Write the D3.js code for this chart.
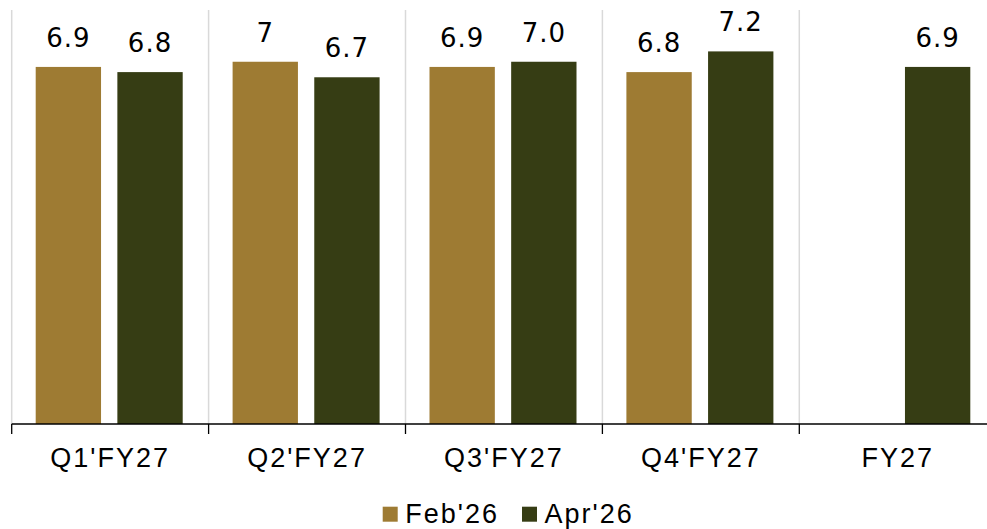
<!DOCTYPE html>
<html>
<head>
<meta charset="utf-8">
<script src="https://cdn.jsdelivr.net/npm/d3@7"></script>
<style>
  html, body { margin: 0; padding: 0; background: #fff; }
  svg { display: block; }
  .cat, .legend-text { font-family: "Liberation Sans", Arial, sans-serif; font-size: 27px; letter-spacing: 2px; fill: #000; }
  .val { font-family: "DejaVu Sans", "Noto Sans", sans-serif; font-size: 26px; letter-spacing: 1px; fill: #000; }
</style>
</head>
<body>
<svg id="chart" width="987" height="529"></svg>
<script>
const categories = ["Q1'FY27", "Q2'FY27", "Q3'FY27", "Q4'FY27", "FY27"];
const seriesNames = ["Feb'26", "Apr'26"];
const feb26 = [6.9, 7, 6.9, 6.8, null];
const apr26 = [6.8, 6.7, 7.0, 7.2, 6.9];
const febLabels = ["6.9", "7", "6.9", "6.8", ""];
const aprLabels = ["6.8", "6.7", "7.0", "7.2", "6.9"];
const colors = ["#9E7B33", "#363D14"];

const svg = d3.select("#chart");
const left = 11.7, step = 196.9;
const baseY = 424, topY = 10;

const x0 = d3.scaleBand().domain(categories).range([left, left + step * categories.length]).padding(0);
const x1 = d3.scaleBand().domain(seriesNames).range([24, 171]).paddingInner(0.2).paddingOuter(0);
const y = d3.scaleLinear().domain([0, 8]).range([baseY, topY]);
const color = d3.scaleOrdinal().domain(seriesNames).range(colors);

// vertical separators between categories
const bounds = categories.map(c => x0(c)).concat([x0(categories[categories.length - 1]) + x0.bandwidth()]);
svg.append("g").selectAll("line").data(bounds).join("line")
  .attr("x1", d => d).attr("x2", d => d)
  .attr("y1", y(8)).attr("y2", baseY)
  .attr("stroke", "#d9d9d9").attr("stroke-width", 1.5);

const rows = categories.map((c, i) => ({
  cat: c,
  items: [
    { s: seriesNames[0], v: feb26[i], label: febLabels[i] },
    { s: seriesNames[1], v: apr26[i], label: aprLabels[i] }
  ].filter(d => d.v != null)
}));

const groups = svg.append("g").selectAll("g").data(rows).join("g")
  .attr("transform", d => `translate(${x0(d.cat)},0)`);

groups.selectAll("rect").data(d => d.items).join("rect")
  .attr("x", d => x1(d.s))
  .attr("width", x1.bandwidth())
  .attr("y", d => y(d.v))
  .attr("height", d => y(0) - y(d.v))
  .attr("fill", d => color(d.s));

groups.selectAll("text.val").data(d => d.items).join("text")
  .attr("class", "val")
  .attr("x", d => x1(d.s) + x1.bandwidth() / 2)
  .attr("y", d => y(d.v) - 20)
  .attr("text-anchor", "middle")
  .text(d => d.label);

// category axis with boundary ticks
const axisG = svg.append("g");
axisG.append("line")
  .attr("x1", left).attr("x2", 987)
  .attr("y1", baseY).attr("y2", baseY)
  .attr("stroke", "#000").attr("stroke-width", 1.3);
axisG.selectAll("line.tick").data(bounds).join("line")
  .attr("class", "tick")
  .attr("x1", d => d).attr("x2", d => d)
  .attr("y1", baseY).attr("y2", baseY + 10)
  .attr("stroke", "#000").attr("stroke-width", 1.3);
axisG.selectAll("text").data(categories).join("text")
  .attr("class", "cat")
  .attr("x", d => x0(d) + x0.bandwidth() / 2)
  .attr("y", 466.5)
  .attr("text-anchor", "middle")
  .text(d => d);

// legend
const legendItems = [
  { name: seriesNames[0], x: 382.7 },
  { name: seriesNames[1], x: 522 }
];
const lg = svg.append("g").selectAll("g").data(legendItems).join("g")
  .attr("transform", d => `translate(${d.x},0)`);
lg.append("rect").attr("x", 0).attr("y", 506.7).attr("width", 15).attr("height", 15)
  .attr("fill", d => color(d.name));
lg.append("text").attr("class", "legend-text").attr("x", 22.5).attr("y", 523)
  .text(d => d.name);
</script>
</body>
</html>
